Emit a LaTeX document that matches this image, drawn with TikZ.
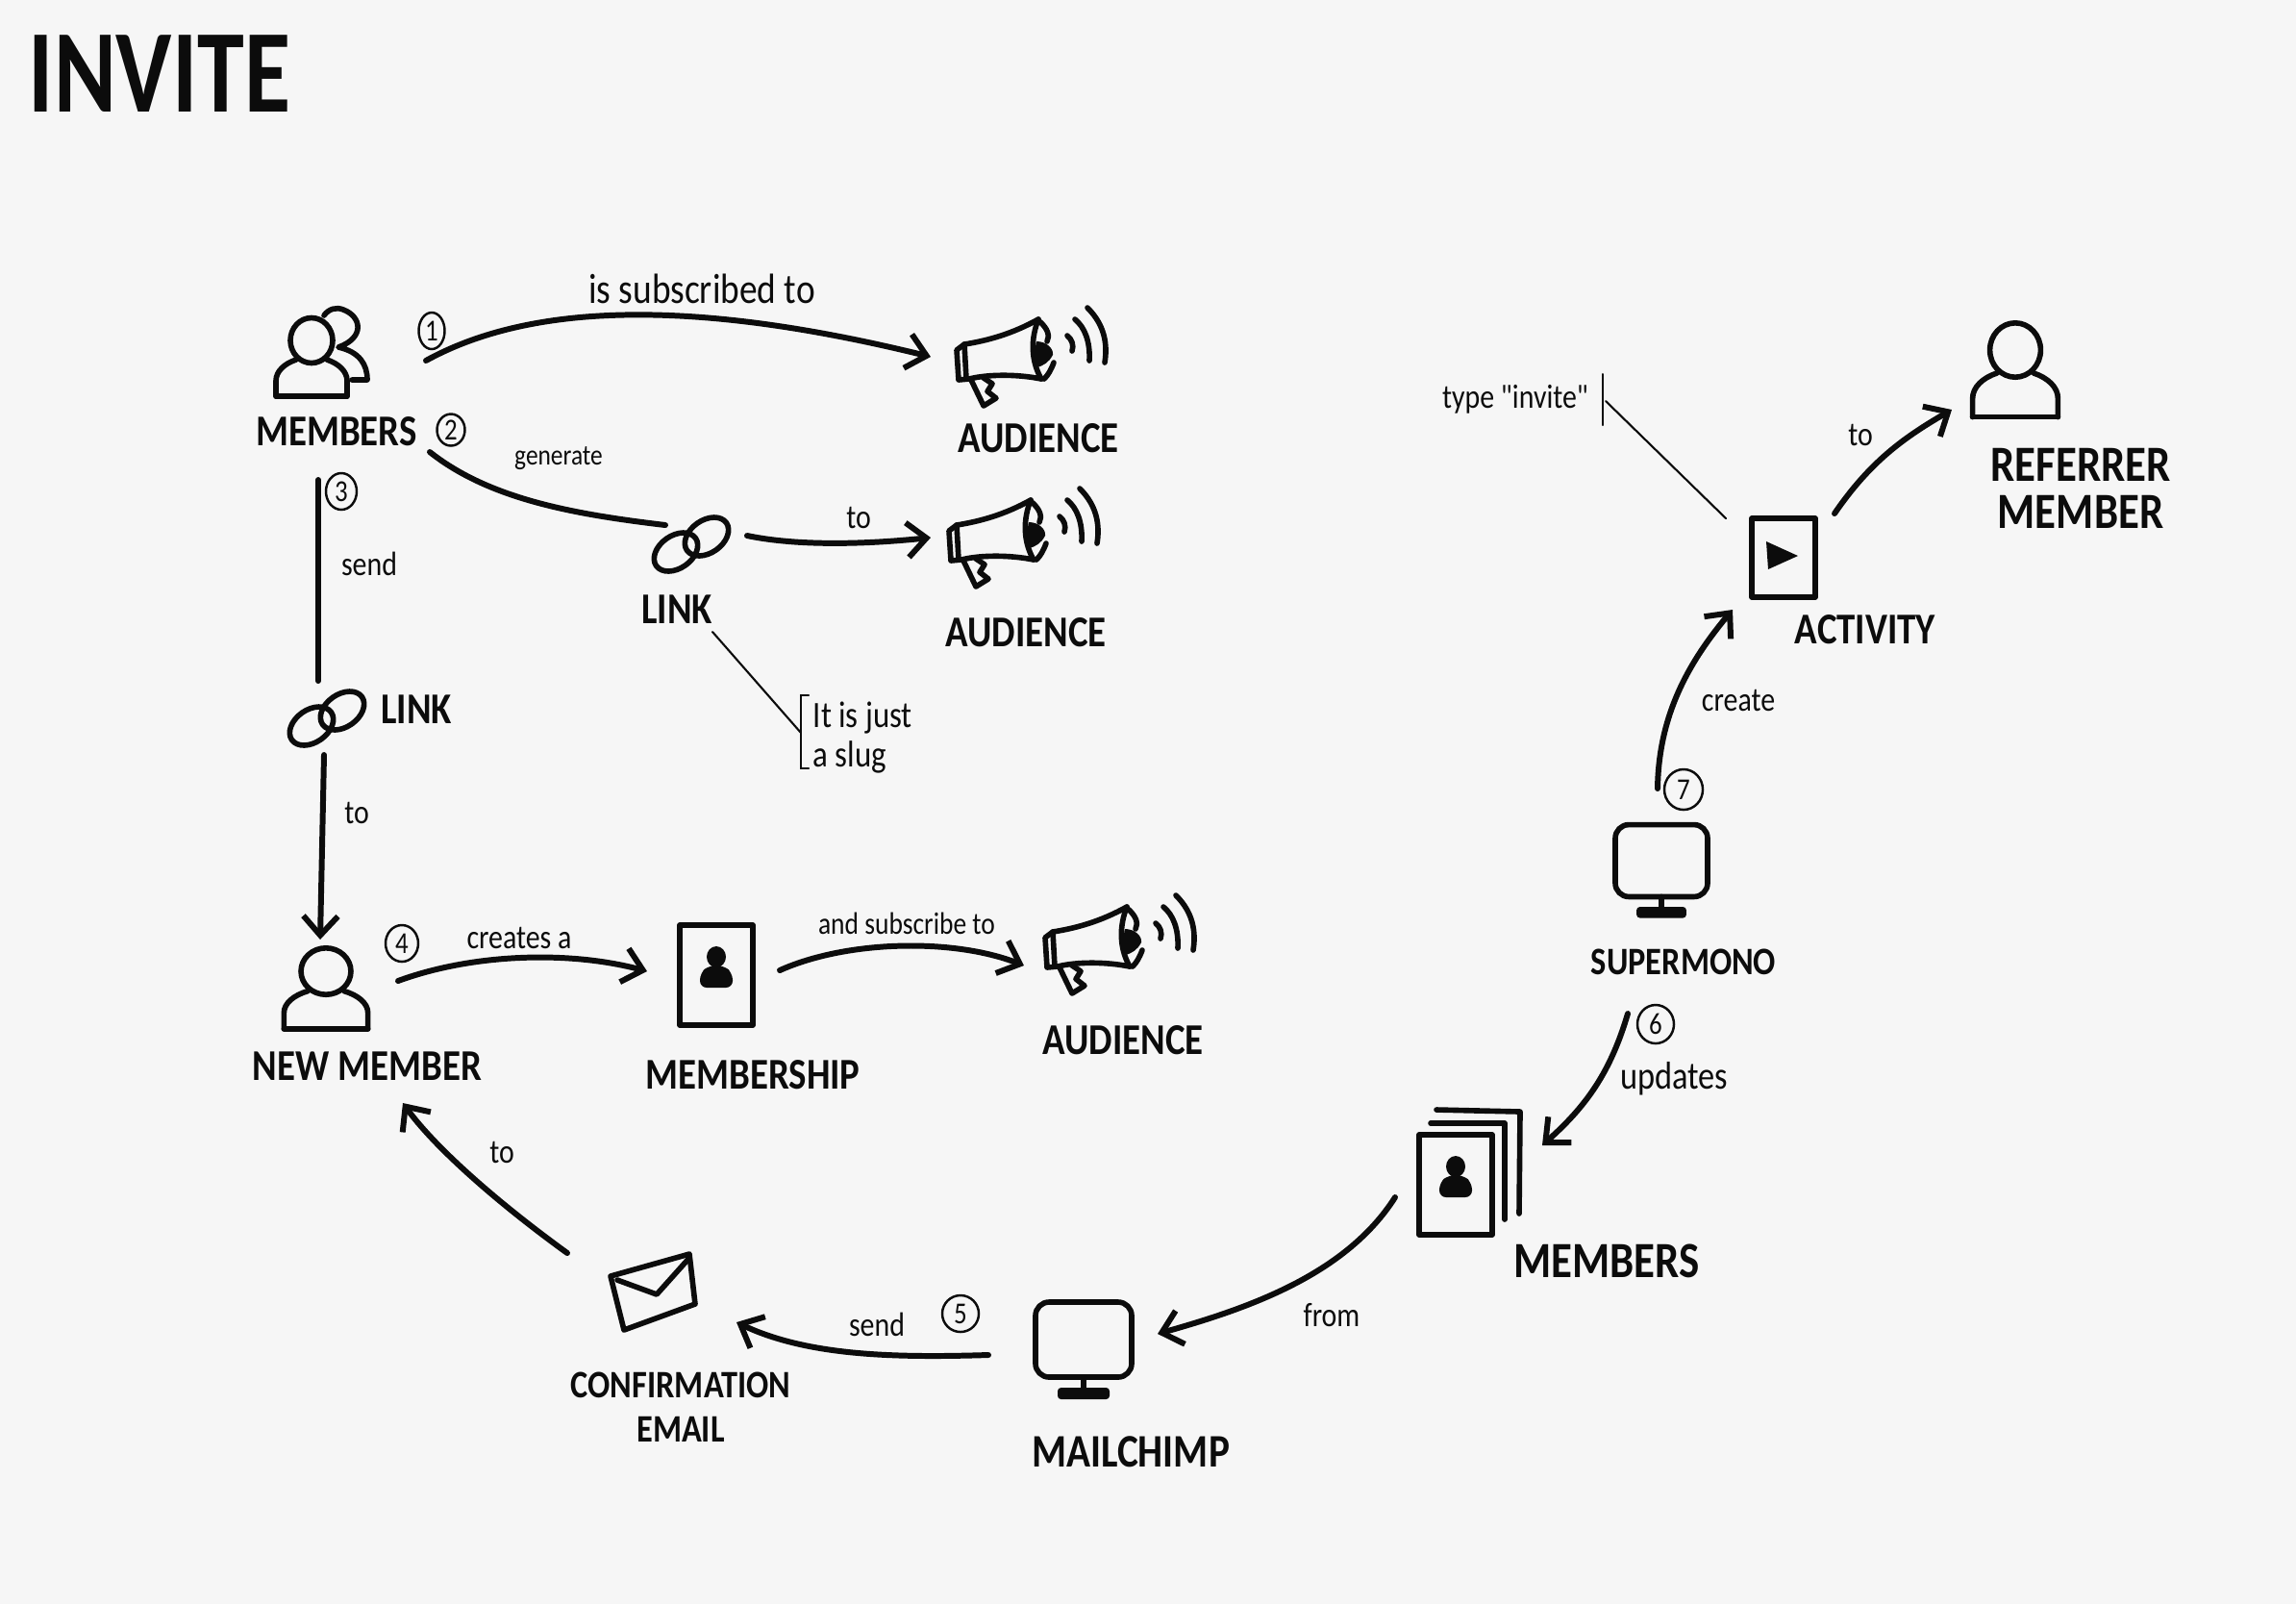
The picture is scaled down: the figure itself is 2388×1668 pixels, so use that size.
\documentclass[tikz,border=0pt]{standalone}
\usepackage{fontspec}
\usetikzlibrary{arrows.meta,shapes.geometric}
\newfontfamily\handfont[FakeStretch=0.85]{Carlito}
\newfontfamily\headfont[FakeStretch=0.8]{Carlito}
\definecolor{paper}{HTML}{F6F6F6}
\definecolor{ink}{HTML}{0C0C0C}
\tikzset{
  iconline/.style={draw=ink,fill=none,line width=1.6pt,line cap=round,line join=round},
  flow/.style={draw=ink,line width=1.7pt,line cap=round,-{Straight Barb[length=2mm,width=3.6mm]}},
  plainflow/.style={draw=ink,line width=1.7pt,line cap=round},
  thinflow/.style={draw=ink,line width=0.6pt,line cap=round},
  lbl/.style={text=ink,inner sep=0pt,align=center,font=\handfont\bfseries\fontsize{13pt}{13pt}\selectfont},
  lblsmall/.style={lbl,font=\handfont\bfseries\fontsize{11.5pt}{11.5pt}\selectfont},
  lblbig/.style={lbl,font=\handfont\bfseries\fontsize{15pt}{15pt}\selectfont},
  note/.style={text=ink,inner sep=0pt,font=\handfont\fontsize{10pt}{10pt}\selectfont},
  notebig/.style={note,font=\handfont\fontsize{12.5pt}{12.5pt}\selectfont},
  notesmall/.style={note,font=\handfont\fontsize{8.5pt}{8.5pt}\selectfont},
  num/.style={ellipse,draw=ink,line width=0.7pt,inner sep=0pt,minimum width=0.34cm,minimum height=0.38cm,text=ink,font=\handfont\fontsize{9pt}{9pt}\selectfont},
  person/.pic={
    \draw[iconline] (0,0) ellipse [x radius=22,y radius=23.5];
    \draw[iconline] (-37,58) -- (-37,42) .. controls (-37,32) and (-28,24) .. (-16,20);
    \draw[iconline] (16,20) .. controls (28,24) and (37,32) .. (37,42) -- (37,58);
    \draw[iconline] (-37,58) -- (37,58);
  },
  personback/.pic={
    \draw[iconline] (13,-26) .. controls (18,-33) and (26,-35) .. (33,-32) .. controls (52,-25) and (56,-3) .. (28,7) .. controls (50,12) and (58,25) .. (58,41) -- (42,41);
  },
  megaphone/.pic={
    \draw[iconline] (87,-35) .. controls (60,-20) and (35,-13) .. (10,-9) -- (2,-3) -- (4,28) -- (15,27);
    \draw[iconline] (15,27) .. controls (35,22) and (65,22) .. (90,27);
    \draw[iconline] (87,-35) .. controls (79,-15) and (79,8) .. (90,27);
    \draw[iconline] (10,-9) -- (12,27);
    \draw[iconline] (88,-33) .. controls (97,-25) and (99,-18) .. (96,-12);
    \fill[ink] (85,-12) .. controls (95,-12) and (103,-5) .. (102,2) .. controls (98,10) and (92,13) .. (86,15) .. controls (83,5) and (83,-4) .. (85,-12);
    \draw[iconline] (103,10) .. controls (100,18) and (97,23) .. (93,27);
    \draw[iconline] (17,28) -- (30,55) -- (43,47) -- (34,40) -- (39,32) -- (30,26);
    \draw[iconline] (117,-18) .. controls (122,-14) and (124,-8) .. (122,-2);
    \draw[iconline] (125,-35) .. controls (135,-27) and (141,-12) .. (140,8);
    \draw[iconline] (138,-47) .. controls (152,-33) and (160,-15) .. (156,10);
  },
  chain/.pic={
    \draw[iconline,rotate=35] (0,0) ellipse [x radius=25,y radius=17];
    \draw[iconline,shift={(32,-16)},rotate=35] (0,0) ellipse [x radius=25,y radius=17];
  },
  card/.pic={
    \draw[iconline] (-38,-52) rectangle (38,52);
    \fill[ink] (0,-19) ellipse [x radius=10,y radius=11];
    \fill[ink,rounded corners=2pt] (-17,13) -- (-17,-2) -- (-8,-10) -- (8,-10) -- (17,-2) -- (17,13) -- cycle;
  },
  cardback/.pic={
    \draw[iconline] (-26,-64) -- (51,-64) -- (51,36);
    \draw[iconline] (-20,-78) -- (67,-76) -- (66,30);
  },
  activitycard/.pic={
    \draw[iconline] (-33,-41) rectangle (33,41);
    \fill[ink,line join=round] (-18,-17) -- (15,-2) -- (-16,12) -- cycle;
  },
  monitor/.pic={
    \draw[iconline,rounded corners=4pt] (-50,-39) rectangle (50,39);
    \draw[iconline] (0,39) -- (0,50);
    \fill[ink,rounded corners=1pt] (-27,50) rectangle (27,62);
  },
  envelope/.pic={
    \draw[iconline] (-45,-18) -- (37,-41) -- (43,11) -- (-31,38) -- cycle;
    \draw[iconline] (-38,-14) -- (3,1) -- (37,-37);
  }
}
\begin{document}
\begin{tikzpicture}[x=0.01cm,y=-0.01cm]
\useasboundingbox (0,0) rectangle (2388,1668);
\fill[paper] (0,0) rectangle (2388,1668);

\node[text=ink,inner sep=0pt,font=\headfont\bfseries\fontsize{35pt}{35pt}\selectfont] (title) at (166,77) {INVITE};

\pic at (324,354) {personback};
\pic at (324,354) {person};
\pic at (993,367) {megaphone};
\pic at (985,555) {megaphone};
\pic at (1085,978) {megaphone};
\pic at (703,574) {chain};
\pic at (324,755) {chain};
\pic[xscale=1.18,yscale=1.03] at (339,1010) {person};
\pic[scale=1.2] at (2096,364) {person};
\pic at (745,1014) {card};
\pic at (1514,1232) {cardback};
\pic at (1514,1232) {card};
\pic at (1855,580) {activitycard};
\pic at (1127,1393) {monitor};
\pic[scale=0.96] at (1728,895) {monitor};
\pic at (680,1345) {envelope};

\node[lbl] (membersLbl) at (350,449) {MEMBERS};
\node[lbl] (audienceA) at (1080,456) {AUDIENCE};
\node[lbl] (audienceB) at (1067,658) {AUDIENCE};
\node[lbl] (audienceC) at (1168,1082) {AUDIENCE};
\node[lbl] (linkA) at (704,634) {LINK};
\node[lbl] (linkB) at (433,738) {LINK};
\node[lbl] (newMember) at (382,1109) {NEW MEMBER};
\node[lbl] (membership) at (783,1118) {MEMBERSHIP};
\node[lblsmall] (confirmation) at (708,1463) {CONFIRMATION\\[0.055cm]EMAIL};
\node[lbl,font=\handfont\bfseries\fontsize{13.8pt}{13.8pt}\selectfont] (mailchimp) at (1176,1510) {MAILCHIMP};
\node[lblbig] (membersB) at (1671,1311) {MEMBERS};
\node[lblsmall] (supermono) at (1751,1000) {SUPERMONO};
\node[lbl] (activity) at (1940,655) {ACTIVITY};
\node[lblbig] (referrer) at (2164,508) {REFERRER\\[-0.04cm]MEMBER};

\node[num,minimum width=0.27cm] (numA) at (449,344) {1};
\node[num,minimum width=0.29cm,minimum height=0.33cm] (numB) at (469,447) {2};
\node[num,minimum width=0.32cm] (numC) at (355,511) {3};
\node[num] (numD) at (418,981) {4};
\node[num,minimum width=0.38cm] (numE) at (999,1366) {5};
\node[num,minimum width=0.38cm,minimum height=0.4cm] (numF) at (1722,1065) {6};
\node[num,minimum width=0.4cm,minimum height=0.42cm] (numG) at (1751,821) {7};

\node[notebig] (subscribed) at (730,300) {is subscribed to};
\node[notesmall] (generate) at (581,477) {generate};
\node[note] (sendA) at (384,586) {send};
\node[note] (toA) at (893,538) {to};
\node[note] (toB) at (371,845) {to};
\node[note,font=\handfont\fontsize{11pt}{11pt}\selectfont,anchor=west,align=left] (slug) at (845,767) {It is just\\[0.03cm]a slug};
\node[note] (creates) at (540,975) {creates a};
\node[note,font=\handfont\fontsize{9.2pt}{9.2pt}\selectfont] (subscribeB) at (943,960) {and subscribe to};
\node[note] (toC) at (522,1198) {to};
\node[note] (sendB) at (912,1377) {send};
\node[note] (from) at (1385,1368) {from};
\node[note,font=\handfont\fontsize{11.5pt}{11.5pt}\selectfont] (updates) at (1741,1122) {updates};
\node[note] (create) at (1808,728) {create};
\node[note] (toD) at (1935,452) {to};
\node[note] (type) at (1576,415) {type "invite"};

\coordinate (membersOut) at (443,375);
\coordinate (audienceAIn) at (968,371);
\coordinate (membersGen) at (447,470);
\coordinate (linkAIn) at (692,546);
\coordinate (linkAOut) at (777,557);
\coordinate (audienceBIn) at (968,559);
\coordinate (membersSend) at (331,499);
\coordinate (linkBIn) at (331,708);
\coordinate (linkBOut) at (337,785);
\coordinate (newMemberIn) at (333,977);
\coordinate (newMemberOut) at (414,1020);
\coordinate (membershipIn) at (673,1010);
\coordinate (membershipOut) at (811,1009);
\coordinate (audienceCIn) at (1065,1004);
\coordinate (emailOut) at (590,1303);
\coordinate (newMemberBack) at (419,1147);
\coordinate (mailchimpOut) at (1028,1409);
\coordinate (emailIn) at (766,1375);
\coordinate (stackOut) at (1451,1245);
\coordinate (mailchimpIn) at (1204,1387);
\coordinate (supermonoDown) at (1693,1054);
\coordinate (stackIn) at (1604,1191);
\coordinate (supermonoUp) at (1724,820);
\coordinate (activityIn) at (1802,634);
\coordinate (activityOut) at (1908,534);
\coordinate (referrerIn) at (2030,426);
\coordinate (linkANote) at (741,657);
\coordinate (slugEnd) at (833,762);
\coordinate (activityNote) at (1795,539);
\coordinate (typeEnd) at (1670,417);

\draw[flow] (membersOut) .. controls (570,305) and (760,320) .. (audienceAIn);
\draw[plainflow] (membersGen) .. controls (510,520) and (600,535) .. (linkAIn);
\draw[flow] (linkAOut) .. controls (830,568) and (900,566) .. (audienceBIn);
\draw[plainflow] (membersSend) -- (linkBIn);
\draw[flow] (linkBOut) -- (newMemberIn);
\draw[flow] (newMemberOut) .. controls (490,992) and (590,988) .. (membershipIn);
\draw[flow] (membershipOut) .. controls (880,978) and (990,975) .. (audienceCIn);
\draw[flow] (emailOut) .. controls (510,1245) and (450,1190) .. (newMemberBack);
\draw[flow] (mailchimpOut) .. controls (930,1412) and (840,1410) .. (emailIn);
\draw[flow] (stackOut) .. controls (1400,1325) and (1300,1360) .. (mailchimpIn);
\draw[flow] (supermonoDown) .. controls (1675,1115) and (1650,1150) .. (stackIn);
\draw[flow] (supermonoUp) .. controls (1725,745) and (1755,690) .. (activityIn);
\draw[flow] (activityOut) .. controls (1945,480) and (1980,455) .. (referrerIn);
\draw[thinflow] (linkANote) -- (slugEnd);
\draw[thinflow] (841,723) -- (833,723) -- (833,799) -- (841,799);
\draw[thinflow] (activityNote) -- (typeEnd);
\draw[thinflow] (1667,389) -- (1667,442);
\end{tikzpicture}
\end{document}
